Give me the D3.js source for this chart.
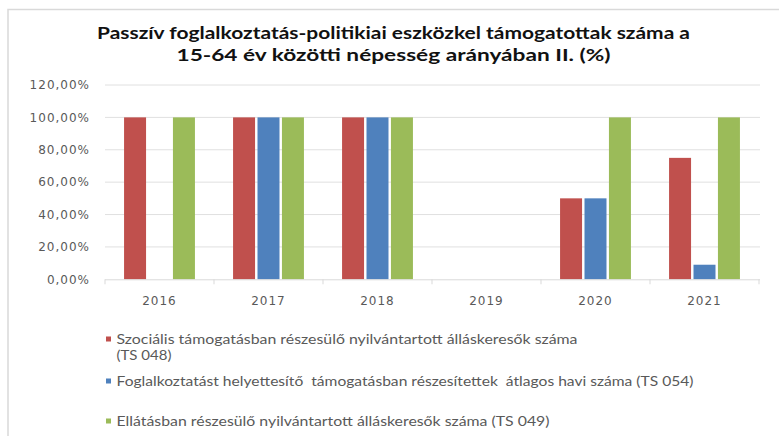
<!DOCTYPE html>
<html>
<head>
<meta charset="utf-8">
<script src="https://cdn.jsdelivr.net/npm/d3@7"></script>
<style>
  body { margin: 0; background: #fff; }
  svg { display: block; }
</style>
</head>
<body>
<div id="chart-area"></div>
<script>
// chart data
var years = ["2016", "2017", "2018", "2019", "2020", "2021"];
var seriesNames = [
    "Szociális támogatásban részesülő nyilvántartott álláskeresők száma",
    "Foglalkoztatást helyettesítő  támogatásban részesítettek  átlagos havi száma (TS 054)",
    "Ellátásban részesülő nyilvántartott álláskeresők száma (TS 049)"
];
var szocialis       = [100, 100, 100, 0, 50, 75];
var foglalkoztatast = [0, 100, 100, 0, 50, 9];
var ellatas         = [100, 100, 100, 0, 100, 100];
var yTicks = [0, 20, 40, 60, 80, 100, 120];
var titleLines = [
    "Passzív foglalkoztatás-politikiai eszközkel támogatottak száma a",
    "15-64 év közötti népesség  arányában II. (%)"
];

var colors = ["#C0504D", "#4F81BD", "#9BBB59"];
var seriesValues = [szocialis, foglalkoztatast, ellatas];

var width = 779, height = 436;
var plot = { left: 105, right: 759, top: 85, bottom: 279.3 };

var svg = d3.select("#chart-area")
    .append("svg")
        .attr("width", width)
        .attr("height", height);

// outer frame
svg.append("rect")
    .attr("x", 8)
    .attr("y", 9.5)
    .attr("width", width)
    .attr("height", height)
    .attr("fill", "none")
    .attr("stroke", "#D9D9D9")
    .attr("stroke-width", 1.5);

// title
var titleWidths = [593, 434];
svg.selectAll(".title")
    .data(titleLines)
    .enter()
    .append("text")
        .attr("class", "title")
        .attr("x", 393.5)
        .attr("y", function(d, i) { return 39 + i * 22; })
        .attr("text-anchor", "middle")
        .attr("font-family", "Lato, 'Open Sans', sans-serif")
        .attr("font-weight", "bold")
        .attr("font-size", "17px")
        .attr("fill", "#111")
        .attr("textLength", function(d, i) { return titleWidths[i]; })
        .attr("lengthAdjust", "spacingAndGlyphs")
        .text(function(d) { return d; });

var y = d3.scaleLinear()
    .domain([0, 120])
    .range([plot.bottom, plot.top]);

var x0 = d3.scaleBand()
    .domain(years)
    .range([plot.left, plot.right])
    .paddingInner(0)
    .paddingOuter(0);

var x1 = d3.scaleBand()
    .domain(d3.range(seriesNames.length))
    .range([0, x0.bandwidth()])
    .paddingInner(0.1)
    .paddingOuter(0.78);

// gridlines
svg.append("g")
    .attr("class", "grid")
    .selectAll("line")
    .data(yTicks.filter(function(d) { return d > 0; }))
    .enter()
    .append("line")
        .attr("x1", plot.left)
        .attr("x2", plot.right + 1)
        .attr("y1", function(d) { return y(d); })
        .attr("y2", function(d) { return y(d); })
        .attr("stroke", "#E0E0E0")
        .attr("stroke-width", 1);

// y axis labels
svg.append("g")
    .attr("class", "y-axis")
    .selectAll("text")
    .data(yTicks)
    .enter()
    .append("text")
        .attr("x", 90)
        .attr("y", function(d) { return y(d); })
        .attr("dy", "0.36em")
        .attr("text-anchor", "end")
        .attr("font-family", "'DejaVu Sans', sans-serif")
        .attr("font-size", "12px")
        .attr("letter-spacing", "1px")
        .attr("fill", "#595959")
        .text(function(d) { return d3.format(".2f")(d).replace(".", ",") + "%"; });

// bars
var groups = svg.append("g")
    .attr("class", "bars")
    .selectAll("g")
    .data(years)
    .enter()
    .append("g")
        .attr("transform", function(d) { return "translate(" + x0(d) + ",0)"; });

groups.selectAll("rect")
    .data(function(d, i) {
        return seriesValues.map(function(vals, s) { return { s: s, v: vals[i] }; });
    })
    .enter()
    .append("rect")
        .attr("x", function(d) { return x1(d.s); })
        .attr("width", x1.bandwidth())
        .attr("y", function(d) { return y(d.v); })
        .attr("height", function(d) { return plot.bottom - y(d.v); })
        .attr("fill", function(d) { return colors[d.s]; });

// x axis
var xAxis = svg.append("g")
    .attr("class", "x-axis");

xAxis.append("line")
    .attr("x1", plot.left)
    .attr("x2", plot.right + 1)
    .attr("y1", plot.bottom + 0.5)
    .attr("y2", plot.bottom + 0.5)
    .attr("stroke", "#D9D9D9");

xAxis.selectAll(".tick")
    .data(years.concat(["end"]))
    .enter()
    .append("line")
        .attr("class", "tick")
        .attr("x1", function(d) { return d === "end" ? plot.right : x0(d); })
        .attr("x2", function(d) { return d === "end" ? plot.right : x0(d); })
        .attr("y1", plot.bottom)
        .attr("y2", plot.bottom + 5)
        .attr("stroke", "#D9D9D9");

xAxis.selectAll("text")
    .data(years)
    .enter()
    .append("text")
        .attr("x", function(d) { return x0(d) + x0.bandwidth() / 2; })
        .attr("y", 301)
        .attr("dy", "0.36em")
        .attr("text-anchor", "middle")
        .attr("font-family", "'DejaVu Sans', sans-serif")
        .attr("font-size", "12px")
        .attr("letter-spacing", "1px")
        .attr("fill", "#595959")
        .text(function(d) { return d; });

// legend
var legendRows = [
    { s: 0, y: 339, lines: [seriesNames[0], "(TS 048)"], widths: [461, 55] },
    { s: 1, y: 381, lines: [seriesNames[1]], widths: [577] },
    { s: 2, y: 421, lines: [seriesNames[2]], widths: [433] }
];

var legend = svg.append("g")
    .attr("class", "legend")
    .selectAll("g")
    .data(legendRows)
    .enter()
    .append("g");

legend.append("rect")
    .attr("x", 106)
    .attr("y", function(d) { return d.y - 2.5; })
    .attr("width", 5)
    .attr("height", 5)
    .attr("fill", function(d) { return colors[d.s]; });

legend.each(function(row) {
    d3.select(this).selectAll("text")
        .data(row.lines)
        .enter()
        .append("text")
            .attr("x", 116.5)
            .attr("y", function(d, i) { return row.y + i * 16; })
            .attr("dy", "0.36em")
            .attr("font-family", "Lato, 'Open Sans', sans-serif")
            .attr("font-size", "13px")
            .attr("fill", "#595959")
            .attr("textLength", function(d, i) { return row.widths[i]; })
            .attr("lengthAdjust", "spacingAndGlyphs")
            .attr("xml:space", "preserve")
            .style("white-space", "pre")
            .text(function(d) { return d; });
});
</script>
</body>
</html>
